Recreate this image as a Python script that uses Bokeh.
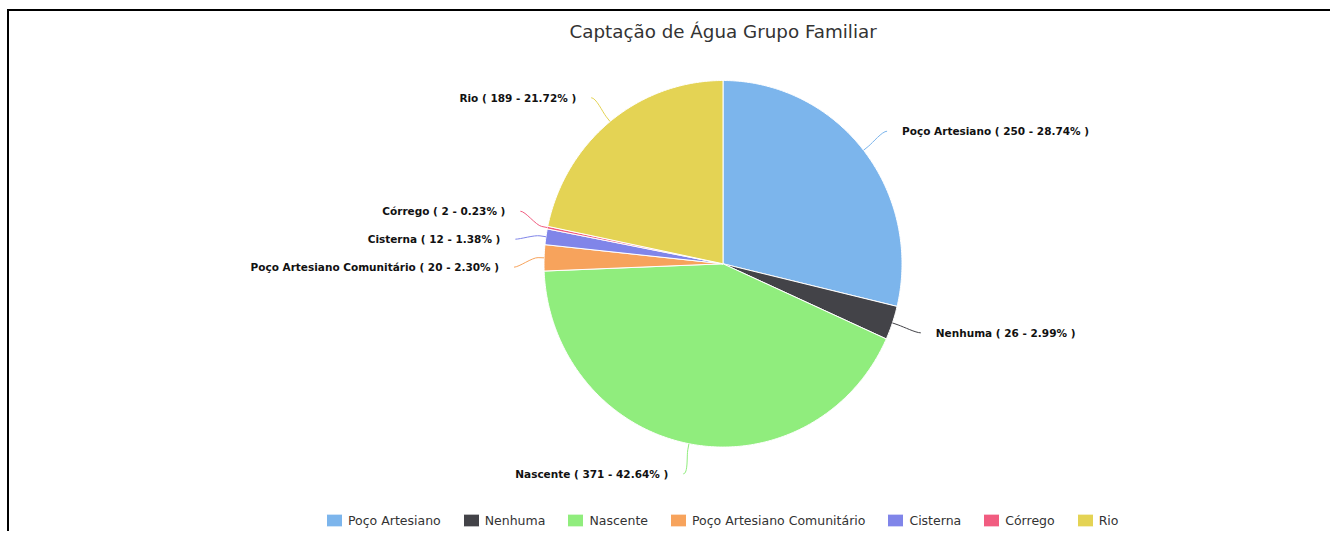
import math
import numpy as np
from bokeh.plotting import figure
from bokeh.models import Range1d, ColumnDataSource, Legend, LegendItem
from bokeh.embed import file_html
from bokeh.resources import INLINE
from bokeh.core.properties import value

title_text = "Captação de Água Grupo Familiar"
categories = ["Poço Artesiano", "Nenhuma", "Nascente", "Poço Artesiano Comunitário",
              "Cisterna", "Córrego", "Rio"]
counts = [250, 26, 371, 20, 12, 2, 189]
colors = ["#7cb5ec", "#434348", "#90ed7d", "#f7a35c", "#8085e9", "#f15c80", "#e4d354"]

# layout (figure pixel space; data y = -pixel y, slightly stretched vertically)
W, H = 1330, 531
TITLE_STANDOFF = 37
TOP = 22.5 + TITLE_STANDOFF   # pixel y of plot frame top (title box height)
CX, CY, RAD = 722.5, 263.0, 179.0
SY = 1.025                     # vertical stretch of the original rendering
DIST = 30.0
LBL_GAP = 28.0 / SY
TXT_OFF = 15.0

total = float(sum(counts))
fr = np.array(counts, dtype=float) / total
ends = np.cumsum(fr) * 2 * math.pi
starts = ends - fr * 2 * math.pi
mids = (starts + ends) / 2  # clockwise from 12 o'clock

# slices as patches (clockwise from 12 o'clock)
xs, ys = [], []
for a0, a1 in zip(starts, ends):
    n = max(2, int(math.degrees(a1 - a0) * 2) + 1)
    t = np.linspace(a0, a1, n)
    xs.append([CX] + list(CX + RAD * np.sin(t)))
    ys.append([-CY] + list(-(CY - RAD * np.cos(t))))
src = ColumnDataSource(dict(xs=xs, ys=ys, color=colors, cat=categories))

u_top = CY - (CY - TOP) / SY
u_bot = CY + (H - CY) / SY
p = figure(width=W, height=H, output_backend="svg", toolbar_location=None,
           x_range=Range1d(0, W), y_range=Range1d(-u_bot, -u_top),
           min_border=0, title=title_text)
p.axis.visible = False
p.xgrid.visible = False
p.ygrid.visible = False
p.outline_line_color = None
p.background_fill_color = None
p.border_fill_color = None
p.title.align = "left"
p.title.offset = CX - 153.5
p.title.standoff = TITLE_STANDOFF
p.title.text_font = "DejaVu Sans"
p.title.text_font_size = "18.3px"
p.title.text_font_style = "normal"
p.title.text_color = "#333333"
# chart container frame (left and top edges), drawn behind the transparent canvas
p.styles = {
    "background-color": "#ffffff",
    "background-image": "linear-gradient(#000000, #000000), linear-gradient(#000000, #000000)",
    "background-size": "2px 100%, 100% 2px",
    "background-position": "7px 9px, 7px 9px",
    "background-repeat": "no-repeat",
}

wr = p.patches(xs="xs", ys="ys", fill_color="color", line_color="white",
               line_width=1, source=src)

# label placement (Highcharts-like)
Rl = RAD + DIST
info = []
for i, m in enumerate(mids):
    right = math.sin(m) >= 0
    ty = CY - Rl * math.cos(m)
    info.append(dict(i=i, right=right, ty=ty, y=ty))


def distribute(items):
    items = sorted(items, key=lambda d: d["ty"])
    groups = [[d] for d in items]
    changed = True
    while changed:
        changed = False
        pos = []
        for g in groups:
            c = (min(d["ty"] for d in g) + max(d["ty"] for d in g)) / 2
            n = len(g)
            pos.append([c + (k - (n - 1) / 2) * LBL_GAP for k in range(n)])
        for gi in range(len(groups) - 1):
            if pos[gi + 1][0] - pos[gi][-1] < LBL_GAP:
                groups[gi] = groups[gi] + groups[gi + 1]
                del groups[gi + 1]
                changed = True
                break
    for g in groups:
        c = (min(d["ty"] for d in g) + max(d["ty"] for d in g)) / 2
        n = len(g)
        for k, d in enumerate(g):
            d["y"] = c + (k - (n - 1) / 2) * LBL_GAP


distribute([d for d in info if d["right"]])
distribute([d for d in info if not d["right"]])

lab = {True: dict(x=[], y=[], t=[]), False: dict(x=[], y=[], t=[])}
bz = dict(x0=[], y0=[], x1=[], y1=[], cx0=[], cy0=[], cx1=[], cy1=[], c=[])
sg = dict(x0=[], y0=[], x1=[], y1=[], c=[])
for d in info:
    i = d["i"]
    m = mids[i]
    s = 1 if d["right"] else -1
    dy = d["y"] - CY
    ang = math.asin(max(-1.0, min(1.0, dy / Rl)))
    ax = CX + s * math.cos(ang) * Rl
    ay = d["y"]
    pct = counts[i] / total * 100
    lab[d["right"]]["x"].append(ax + s * TXT_OFF)
    lab[d["right"]]["y"].append(-ay)
    lab[d["right"]]["t"].append(f"{categories[i]} ( {counts[i]} - {pct:.2f}% )")
    tx, ty = CX + RAD * math.sin(m), CY - RAD * math.cos(m)
    bx, by = CX + (RAD + 6) * math.sin(m), CY - (RAD + 6) * math.cos(m)
    bz["x0"].append(ax); bz["y0"].append(-ay)
    bz["x1"].append(bx); bz["y1"].append(-by)
    bz["cx0"].append(ax - s * 5); bz["cy0"].append(-ay)
    bz["cx1"].append(2 * bx - tx); bz["cy1"].append(-(2 * by - ty))
    bz["c"].append(colors[i])
    sg["x0"].append(bx); sg["y0"].append(-by)
    sg["x1"].append(tx); sg["y1"].append(-ty)
    sg["c"].append(colors[i])

p.bezier(x0="x0", y0="y0", x1="x1", y1="y1", cx0="cx0", cy0="cy0", cx1="cx1", cy1="cy1",
         line_color="c", line_width=1, source=ColumnDataSource(bz))
p.segment(x0="x0", y0="y0", x1="x1", y1="y1", line_color="c", line_width=1,
          source=ColumnDataSource(sg))

for right, align in ((True, "left"), (False, "right")):
    p.text(x="x", y="y", text="t", source=ColumnDataSource(lab[right]),
           text_align=align, text_baseline="middle", text_font=value("DejaVu Sans"),
           text_font_style="bold", text_font_size="10.5px", text_color="#111111")

legend = Legend(items=[LegendItem(label=c, renderers=[wr], index=i)
                       for i, c in enumerate(categories)],
                orientation="horizontal", location=(324, 3),
                glyph_width=20, glyph_height=16, label_standoff=4, spacing=20,
                label_height=16,
                padding=0, margin=0, border_line_color=None,
                background_fill_alpha=0, label_text_font="DejaVu Sans",
                label_text_font_size="12.5px", label_text_color="#333333")
p.add_layout(legend, "center")

open("out.html", "w").write(file_html(p, INLINE))
